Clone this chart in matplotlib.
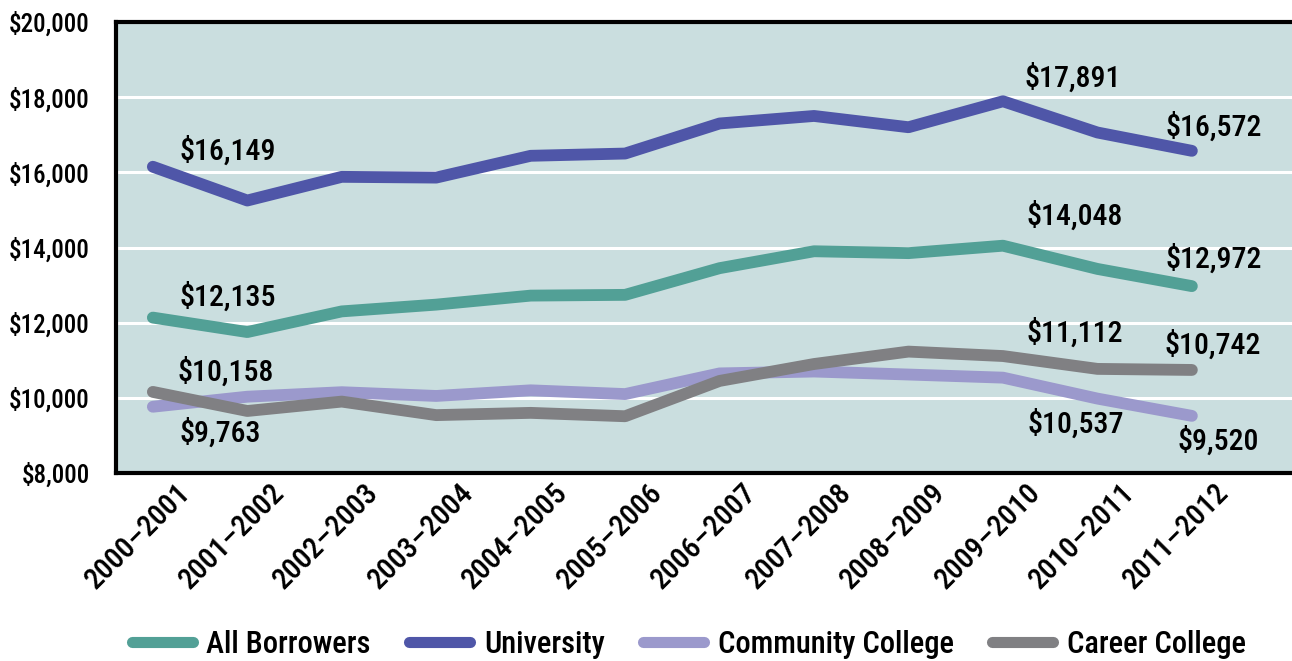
import matplotlib
matplotlib.use("Agg")
import matplotlib.pyplot as plt
from matplotlib.lines import Line2D
from matplotlib.transforms import ScaledTranslation

plt.rcParams['font.family'] = ['Roboto Condensed', 'Archivo Narrow', 'DejaVu Sans']
plt.rcParams['font.weight'] = 'medium'

years = ["2000–2001", "2001–2002", "2002–2003", "2003–2004", "2004–2005", "2005–2006",
         "2006–2007", "2007–2008", "2008–2009", "2009–2010", "2010–2011", "2011–2012"]

all_borrowers = [12135, 11750, 12300, 12480, 12720, 12740, 13450, 13900, 13850, 14048, 13430, 12972]
university = [16149, 15250, 15880, 15860, 16440, 16500, 17300, 17500, 17200, 17891, 17060, 16572]
community_college = [9763, 10030, 10150, 10050, 10200, 10100, 10650, 10700, 10620, 10537, 9980, 9520]
career_college = [10158, 9650, 9900, 9540, 9600, 9510, 10450, 10900, 11230, 11112, 10770, 10742]

series = [
    ("All Borrowers", all_borrowers, "#52a096"),
    ("University", university, "#4f56a8"),
    ("Community College", community_college, "#9b99cc"),
    ("Career College", career_college, "#808083"),
]

fig = plt.figure(figsize=(12.92, 6.61), dpi=100)
ax = fig.add_axes([116 / 1292, (661 - 473) / 661, 1 - 116 / 1292, (473 - 22) / 661])
ax.set_facecolor("#cadedf")

x = list(range(len(years)))
for label, vals, color in series:
    ax.plot(x, vals, color=color, lw=8.5, solid_capstyle="round", solid_joinstyle="round",
            label=label, zorder=3)

ax.set_xlim(-0.39, 12.06)
ax.set_ylim(8000, 20000)
ticks = list(range(8000, 20001, 2000))
ax.set_yticks(ticks)
ax.set_yticklabels([f"${v:,}" for v in ticks], fontsize=18)
ax.yaxis.grid(True, color="white", lw=2.2, zorder=1)
ax.set_axisbelow(True)
ax.tick_params(axis="y", length=0, pad=19)
ax.tick_params(axis="x", length=0, pad=4)
ax.set_xticks(x)
ax.set_xticklabels(years, rotation=45, ha="right", rotation_mode="anchor", fontsize=21.5)
shift = ScaledTranslation(0.23, 0, fig.dpi_scale_trans)
for lab in ax.get_xticklabels():
    lab.set_transform(lab.get_transform() + shift)

for side in ("left", "bottom", "top"):
    ax.spines[side].set_linewidth(3)
    ax.spines[side].set_color("black")
ax.spines["right"].set_visible(False)


def tag(i, vals, dx, dy):
    ax.annotate(f"${vals[i]:,}", (i, vals[i]), xytext=(dx, dy), textcoords="offset pixels",
                ha="left", va="center", fontsize=21.5, zorder=5)


# value labels at the first, peak and last points
tag(0, university, 27, 16)
tag(0, all_borrowers, 27, 21)
tag(0, career_college, 25, 20)
tag(0, community_college, 27, -26)
tag(9, university, 22, 24)
tag(9, all_borrowers, 24, 30)
tag(9, career_college, 24, 23)
tag(9, community_college, 25, -46)
tag(11, university, -26, 24)
tag(11, all_borrowers, -26, 28)
tag(11, career_college, -27, 25)
tag(11, community_college, -14, -25)

handles = [Line2D([], [], color=c, lw=8, solid_capstyle="round") for _, _, c in series]
fig.legend(handles, [s[0] for s in series], loc="center", bbox_to_anchor=(0.533, 0.025),
           ncol=4, frameon=False, fontsize=22, handlelength=2.0, handletextpad=0.45,
           columnspacing=1.25)

fig.savefig("out.png", dpi=100)
